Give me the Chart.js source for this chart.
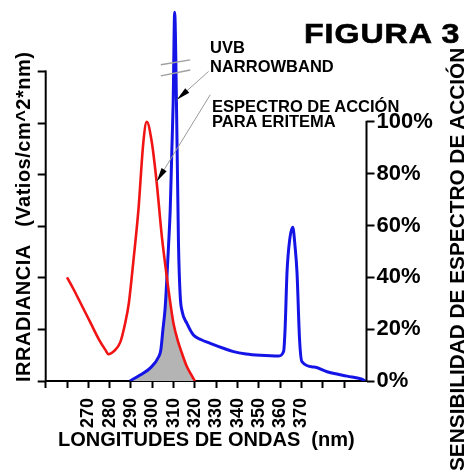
<!DOCTYPE html>
<html><head><meta charset="utf-8">
<script src="https://cdn.jsdelivr.net/npm/chart.js@4.4.0/dist/chart.umd.min.js"></script>
<style>
html,body{margin:0;padding:0;background:#fff;}
#wrap{position:relative;width:465px;height:473px;overflow:hidden;background:#fff;}
canvas{position:absolute;left:0;top:0;}
.t{position:absolute;font-family:"Liberation Sans",Arial,sans-serif;font-weight:bold;color:#000;white-space:pre;line-height:1;}
</style></head><body>
<div id="wrap">
<canvas id="c" width="465" height="473"></canvas>
<div class="t" style="left:304px;top:20px;font-size:27.5px;letter-spacing:0.8px;transform:scaleX(1.17);transform-origin:0 0;-webkit-text-stroke:0.6px #000;">FIGURA 3</div>
<div class="t" style="left:210px;top:39px;font-size:16.5px;">UVB</div>
<div class="t" style="left:210px;top:57.7px;font-size:16.5px;">NARROWBAND</div>
<div class="t" style="left:212px;top:97.7px;font-size:16.5px;">ESPECTRO DE ACCIÓN</div>
<div class="t" style="left:212px;top:112.7px;font-size:16.5px;">PARA ERITEMA</div>
<div class="t" style="left:13px;top:382px;font-size:20px;letter-spacing:0.5px;transform:rotate(-90deg);transform-origin:0 0;">IRRADIANCIA   (Vatios/cm^2*nm)</div>
<div class="t" style="left:446.8px;top:471px;font-size:20.8px;transform:rotate(-90deg);transform-origin:0 0;">SENSIBILIDAD DE ESPECTRO DE ACCIÓN</div>
<div class="t" style="left:58px;top:429px;font-size:20px;">LONGITUDES DE ONDAS  (nm)</div>
</div>
<script>
// ---- data ----
const blueNm  = [289.5, 294.3, 299, 303, 304, 305, 306, 306.8, 307.6, 308.4, 309.2, 309.8, 310.5, 311.4, 312.3, 313.1, 314, 316.2, 319.3, 323, 327.2, 333, 338.1, 344, 350.6, 359.3, 361.6, 362.3, 363.2, 364.5, 365.9, 367, 367.9, 369.1, 370.2, 376, 382, 391.4, 398, 400];
const blueIrr = [0, 2.3, 5, 9.4, 12, 20, 28, 39, 52, 66, 90, 108, 143, 105, 53, 33, 27, 22.4, 17.8, 16, 14.6, 12.8, 11.4, 10.5, 10, 9.7, 11.4, 20, 42, 55, 59.6, 52, 42, 16, 7.5, 5.4, 3.6, 1.9, 0.8, 0];
const redNm   = [260, 263, 266.4, 271, 275, 278, 279.5, 282, 285, 287.2, 289, 291.1, 293.5, 295.8, 297.4, 299.8, 302.1, 304.5, 306.8, 309.2, 310, 312, 313.9, 316, 318, 320];
const redPct  = [40, 35.5, 30, 22.5, 16, 12, 10.3, 11.5, 15, 22, 30, 46, 66, 92, 100, 92, 76.3, 55.7, 40.3, 26, 22, 15.5, 10.7, 6, 2.8, 0];
const grayNm  = [289.5, 294.3, 299, 303, 304, 305, 306, 306.8, 307.6, 309.2, 310, 312, 313.9, 316, 318, 320];
const grayPct = [0, 2.3, 5, 9.4, 12, 20, 28, 39, 36, 26, 22, 15.5, 10.7, 6, 2.8, 0];
const xTickValues = [250, 260, 270, 280, 290, 300, 310, 320, 330, 340, 350, 360, 370, 380, 390];
const xTickLabels = ['270', '280', '290', '300', '310', '320', '330', '340', '350', '360', '370'];
const leftTickValues = [0, 20, 40, 60, 80, 100, 120];
const rightTickValues = [0, 20, 40, 60, 80, 100];
const rightTickLabels = ['0%', '20%', '40%', '60%', '80%', '100%'];

// annotation anchors (in data units: nm, left-axis units)
const breakMarks = [[304, 122.6, 317.8, 124.5], [304, 118.3, 317.8, 120.6]];
const arrows = [[326.4, 120, 311.5, 109], [327.2, 111, 302.1, 77.3]];

const zip = (xs, ys) => xs.map((x, i) => ({x: x, y: ys[i]}));

const annot = {
  id: 'annot',
  afterDraw(chart) {
    const {ctx, chartArea, scales} = chart;
    const x = scales.x, yL = scales.yL, yR = scales.yR;
    ctx.save();
    ctx.strokeStyle = '#000'; ctx.lineWidth = 2; ctx.lineCap = 'butt';
    ctx.beginPath();
    ctx.moveTo(chartArea.left, yL.getPixelForValue(0) + 1);
    ctx.lineTo(chartArea.left, yL.getPixelForValue(120) - 1);
    ctx.moveTo(chartArea.right, yR.getPixelForValue(0) + 1);
    ctx.lineTo(chartArea.right, yR.getPixelForValue(100) - 1);
    ctx.stroke();
    ctx.strokeStyle = '#a0a0a0'; ctx.lineWidth = 1.5;
    breakMarks.forEach(b => {
      ctx.beginPath();
      ctx.moveTo(x.getPixelForValue(b[0]), yL.getPixelForValue(b[1]));
      ctx.lineTo(x.getPixelForValue(b[2]), yL.getPixelForValue(b[3]));
      ctx.stroke();
    });
    arrows.forEach(a => {
      const x1 = x.getPixelForValue(a[0]), y1 = yL.getPixelForValue(a[1]);
      const x2 = x.getPixelForValue(a[2]), y2 = yL.getPixelForValue(a[3]);
      ctx.strokeStyle = '#9a9a9a'; ctx.lineWidth = 1;
      ctx.beginPath(); ctx.moveTo(x1, y1); ctx.lineTo(x2, y2); ctx.stroke();
      const ang = Math.atan2(y2 - y1, x2 - x1);
      const L = 14, W = 3;
      const bx = x2 - L * Math.cos(ang), by = y2 - L * Math.sin(ang);
      ctx.fillStyle = '#000';
      ctx.beginPath();
      ctx.moveTo(x2, y2);
      ctx.lineTo(bx + W * Math.sin(ang), by - W * Math.cos(ang));
      ctx.lineTo(bx - W * Math.sin(ang), by + W * Math.cos(ang));
      ctx.closePath(); ctx.fill();
    });
    ctx.restore();
  }
};

const noPad = s => { s.paddingTop = 0; s.paddingBottom = 0; s.paddingLeft = 0; s.paddingRight = 0; };

new Chart(document.getElementById('c'), {
  type: 'line',
  data: {
    datasets: [
      {label: 'Espectro de acción para eritema', data: zip(redNm, redPct), yAxisID: 'yR',
       borderColor: '#f01414', borderWidth: 2.6, pointRadius: 0, fill: false, cubicInterpolationMode: 'monotone'},
      {label: 'UVB narrowband', data: zip(blueNm, blueIrr), yAxisID: 'yL',
       borderColor: '#1414e6', borderWidth: 3, pointRadius: 0, fill: false, cubicInterpolationMode: 'monotone'},
      {label: 'Solapamiento', data: zip(grayNm, grayPct), yAxisID: 'yR',
       borderWidth: 0, borderColor: 'rgba(0,0,0,0)', backgroundColor: '#b4b4b4', pointRadius: 0, fill: 'origin', cubicInterpolationMode: 'monotone'}
    ]
  },
  options: {
    responsive: false, animation: false, devicePixelRatio: 1,
    layout: {padding: {top: 7, left: 0, right: 0, bottom: 0}},
    plugins: {legend: {display: false}, tooltip: {enabled: false}},
    scales: {
      x: {
        type: 'linear', min: 250, max: 400.5,
        afterBuildTicks: s => { s.ticks = xTickValues.map(v => ({value: v})); },
        afterFit: s => { s.height = 92; noPad(s); },
        ticks: {
          autoSkip: false, minRotation: 90, maxRotation: 90, padding: 10, color: '#000',
          font: {family: 'Liberation Sans', size: 18, weight: 'bold'},
          callback: v => xTickLabels.includes(String(v)) ? String(v) : ''
        },
        grid: {display: true, drawOnChartArea: false, drawTicks: true, tickLength: 7, tickWidth: 2, tickColor: '#000'},
        border: {display: true, color: '#000', width: 2}
      },
      yL: {
        position: 'left', min: 0, max: 145,
        afterBuildTicks: s => { s.ticks = leftTickValues.map(v => ({value: v})); },
        afterFit: s => { s.width = 45.7; noPad(s); },
        ticks: {callback: () => '', font: {size: 10}},
        grid: {display: true, drawOnChartArea: false, drawTicks: true, tickLength: 8, tickWidth: 2, tickColor: '#000'},
        border: {display: false}
      },
      yR: {
        position: 'right', min: 0, max: 144.3,
        afterBuildTicks: s => { s.ticks = rightTickValues.map(v => ({value: v})); },
        afterFit: s => { s.width = 98.5; noPad(s); },
        ticks: {
          padding: 2, color: '#000',
          font: {family: 'Liberation Sans', size: 22, weight: 'bold'},
          callback: v => rightTickLabels[rightTickValues.indexOf(v)] || ''
        },
        grid: {display: true, drawOnChartArea: false, drawTicks: true, tickLength: 8, tickWidth: 2, tickColor: '#000'},
        border: {display: false}
      }
    }
  },
  plugins: [annot]
});
</script>
</body></html>
